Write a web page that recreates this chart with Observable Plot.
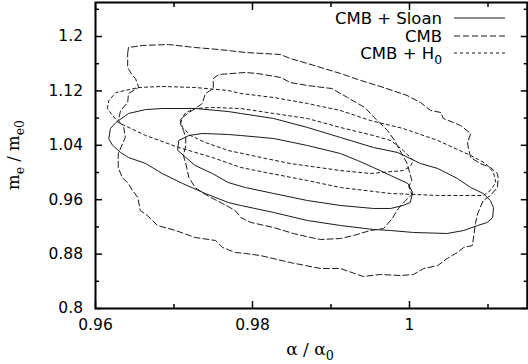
<!DOCTYPE html>
<html><head><meta charset="utf-8">
<script src="https://cdn.jsdelivr.net/npm/d3@7"></script>
<script src="https://cdn.jsdelivr.net/npm/@observablehq/plot@0.6"></script>
<style>body{margin:0;background:#fff} svg{display:block;background:#fff}</style>
</head><body><div id="chart"></div>
<script>
// ---- data (alpha/alpha0, me/me0) ----
const seriesNames = ["CMB + Sloan", "CMB", "CMB + H0"];
const xMajor = [0.96, 0.98, 1.0];
const xMinor = [0.97, 0.99, 1.01];
const yMajor = [0.8, 0.88, 0.96, 1.04, 1.12, 1.2];
const yMinor = [0.84, 0.92, 1.0, 1.08, 1.16, 1.24];

const sloanOuter = [[0.9617,1.0500],[0.9619,1.0647],[0.9626,1.0735],[0.9642,1.0868],[0.9664,1.0926],[0.9685,1.0941],[0.9727,1.0941],[0.9769,1.0897],[0.9785,1.0868],[0.9827,1.0794],[0.9870,1.0662],[0.9912,1.0515],[0.9954,1.0368],[0.9985,1.0294],[1.0014,1.0132],[1.0036,1.0059],[1.0061,0.9912],[1.0078,0.9779],[1.0094,0.9691],[1.0103,0.9588],[1.0107,0.9485],[1.0106,0.9338],[1.0099,0.9265],[1.0087,0.9221],[1.0069,0.9147],[1.0048,0.9103],[1.0005,0.9118],[0.9976,0.9147],[0.9954,0.9162],[0.9912,0.9221],[0.9870,0.9294],[0.9827,0.9412],[0.9785,0.9515],[0.9769,0.9559],[0.9740,0.9691],[0.9711,0.9838],[0.9685,0.9985],[0.9664,1.0132],[0.9642,1.0221],[0.9632,1.0294],[0.9622,1.0397]];
const sloanInner = [[0.9705,1.0368],[0.9706,1.0471],[0.9719,1.0544],[0.9736,1.0574],[0.9769,1.0559],[0.9785,1.0544],[0.9827,1.0500],[0.9870,1.0397],[0.9912,1.0279],[0.9934,1.0176],[0.9954,1.0074],[0.9976,0.9956],[0.9998,0.9838],[1.0004,0.9706],[1.0001,0.9559],[0.9992,0.9515],[0.9976,0.9471],[0.9954,0.9471],[0.9912,0.9515],[0.9870,0.9588],[0.9827,0.9691],[0.9791,0.9779],[0.9769,0.9853],[0.9749,0.9985],[0.9727,1.0103],[0.9715,1.0221],[0.9705,1.0324]];
const cmbOuter = [[0.9641,1.1750],[0.9642,1.1838],[0.9660,1.1868],[0.9693,1.1882],[0.9727,1.1838],[0.9757,1.1809],[0.9791,1.1765],[0.9836,1.1735],[0.9848,1.1676],[0.9870,1.1603],[0.9912,1.1456],[0.9938,1.1353],[0.9967,1.1250],[0.9997,1.1132],[1.0014,1.1029],[1.0027,1.0912],[1.0040,1.0882],[1.0043,1.0794],[1.0056,1.0735],[1.0065,1.0691],[1.0078,1.0574],[1.0074,1.0441],[1.0075,1.0353],[1.0078,1.0221],[1.0090,1.0132],[1.0103,1.0074],[1.0112,0.9985],[1.0113,0.9912],[1.0112,0.9779],[1.0103,0.9662],[1.0094,0.9588],[1.0090,0.9485],[1.0087,0.9397],[1.0084,0.9250],[1.0082,0.9074],[1.0080,0.8926],[1.0069,0.8897],[1.0061,0.8824],[1.0048,0.8735],[1.0036,0.8632],[1.0018,0.8588],[1.0005,0.8500],[0.9989,0.8485],[0.9963,0.8500],[0.9941,0.8471],[0.9912,0.8588],[0.9887,0.8588],[0.9848,0.8676],[0.9810,0.8779],[0.9791,0.8809],[0.9778,0.8824],[0.9762,0.8897],[0.9753,0.9000],[0.9727,0.9044],[0.9702,0.9147],[0.9679,0.9221],[0.9666,0.9368],[0.9657,0.9441],[0.9654,0.9632],[0.9647,0.9735],[0.9642,0.9838],[0.9634,0.9926],[0.9629,1.0074],[0.9629,1.0279],[0.9638,1.0515],[0.9636,1.0662],[0.9629,1.0765],[0.9632,1.0912],[0.9641,1.1029],[0.9642,1.1162],[0.9655,1.1250],[0.9651,1.1382],[0.9647,1.1426],[0.9641,1.1544]];
const cmbInner = [[0.9750,1.1382],[0.9757,1.1441],[0.9791,1.1471],[0.9806,1.1456],[0.9836,1.1397],[0.9848,1.1324],[0.9870,1.1279],[0.9901,1.1235],[0.9921,1.1103],[0.9943,1.0956],[0.9955,1.0809],[0.9972,1.0618],[0.9981,1.0471],[0.9990,1.0279],[0.9997,1.0132],[1.0003,0.9882],[0.9999,0.9794],[1.0003,0.9676],[0.9995,0.9588],[0.9986,0.9471],[0.9977,0.9309],[0.9967,0.9176],[0.9950,0.9147],[0.9929,0.9074],[0.9912,0.9029],[0.9887,0.9015],[0.9874,0.9044],[0.9852,0.9103],[0.9827,0.9191],[0.9798,0.9265],[0.9785,0.9338],[0.9778,0.9441],[0.9762,0.9544],[0.9747,0.9632],[0.9736,0.9706],[0.9727,0.9779],[0.9719,0.9926],[0.9715,1.0132],[0.9712,1.0250],[0.9715,1.0397],[0.9715,1.0515],[0.9712,1.0618],[0.9708,1.0721],[0.9711,1.0809],[0.9719,1.0882],[0.9727,1.0941],[0.9736,1.1015],[0.9740,1.1162],[0.9750,1.1235]];
const h0Outer = [[0.9615,1.0941],[0.9617,1.1059],[0.9626,1.1176],[0.9655,1.1250],[0.9685,1.1265],[0.9727,1.1250],[0.9769,1.1206],[0.9785,1.1162],[0.9827,1.1103],[0.9870,1.1015],[0.9912,1.0912],[0.9950,1.0765],[0.9992,1.0647],[1.0036,1.0471],[1.0078,1.0250],[1.0097,1.0132],[1.0107,1.0000],[1.0110,0.9853],[1.0103,0.9735],[1.0094,0.9662],[1.0036,0.9662],[0.9976,0.9691],[0.9912,0.9779],[0.9870,0.9882],[0.9817,1.0000],[0.9785,1.0074],[0.9749,1.0221],[0.9706,1.0368],[0.9664,1.0544],[0.9629,1.0735],[0.9622,1.0838]];
const h0Inner = [[0.9708,1.0765],[0.9715,1.0882],[0.9727,1.0941],[0.9749,1.0956],[0.9785,1.0941],[0.9827,1.0868],[0.9870,1.0794],[0.9912,1.0662],[0.9954,1.0544],[0.9976,1.0471],[0.9992,1.0324],[1.0005,1.0176],[1.0001,1.0088],[0.9992,1.0029],[0.9950,0.9985],[0.9912,1.0029],[0.9848,1.0132],[0.9817,1.0206],[0.9769,1.0324],[0.9740,1.0441],[0.9721,1.0544],[0.9711,1.0662]];

const contours = [
  {series: seriesNames[0], id: "sloan-95", pts: sloanOuter},
  {series: seriesNames[0], id: "sloan-68", pts: sloanInner},
  {series: seriesNames[1], id: "cmb-95", pts: cmbOuter},
  {series: seriesNames[1], id: "cmb-68", pts: cmbInner},
  {series: seriesNames[2], id: "h0-95", pts: h0Outer},
  {series: seriesNames[2], id: "h0-68", pts: h0Inner}
];
const rows = contours.flatMap(c => c.pts.map(([x, y]) => ({x, y, id: c.id, series: c.series})));

const styles = {
  "CMB + Sloan": {dash: null},
  "CMB": {dash: "6,3"},
  "CMB + H0": {dash: "3,3"}
};
const ink = "#1a1a1a";

const lineMarks = seriesNames.map(s => Plot.line(rows.filter(r => r.series === s), {
  x: "x", y: "y", z: "id", curve: "linear-closed",
  stroke: ink, strokeWidth: 1, strokeDasharray: styles[s].dash
}));

const fmt = d => String(d);
const blank = () => "";

const plot = Plot.plot({
  width: 528, height: 364,
  marginLeft: 95, marginRight: 1.25, marginTop: 2, marginBottom: 56,
  x: {domain: [0.96, 1.015]},
  y: {domain: [0.8, 1.25]},
  style: {fontFamily: "DejaVu Sans", fontSize: "15.5px", color: "#000", background: "#fff"},
  marks: [
    ...lineMarks,
    Plot.axisX({anchor: "bottom", ticks: xMajor, tickSize: -7, tickPadding: 17.5, tickFormat: fmt, label: null, stroke: "#000", strokeWidth: 1.5, fill: "#000"}),
    Plot.axisX({anchor: "bottom", ticks: xMinor, tickSize: -4, tickFormat: blank, label: null, stroke: "#000", strokeWidth: 1.5}),
    Plot.axisX({anchor: "top", ticks: xMajor, tickSize: -7, tickFormat: blank, label: null, stroke: "#000", strokeWidth: 1.5}),
    Plot.axisX({anchor: "top", ticks: xMinor, tickSize: -4, tickFormat: blank, label: null, stroke: "#000", strokeWidth: 1.5}),
    Plot.axisY({anchor: "left", ticks: yMajor, tickSize: -7, tickPadding: 19.5, tickFormat: fmt, label: null, stroke: "#000", strokeWidth: 1.5, fill: "#000"}),
    Plot.axisY({anchor: "left", ticks: yMinor, tickSize: -4, tickFormat: blank, label: null, stroke: "#000", strokeWidth: 1.5}),
    Plot.axisY({anchor: "right", ticks: yMajor, tickSize: -7, tickFormat: blank, label: null, stroke: "#000", strokeWidth: 1.5}),
    Plot.axisY({anchor: "right", ticks: yMinor, tickSize: -4, tickFormat: blank, label: null, stroke: "#000", strokeWidth: 1.5}),
    Plot.frame({stroke: "#000", strokeWidth: 2})
  ]
});
document.getElementById("chart").append(plot);

// ---- rich text (subscripts) ----
function rich(sel, parts, size) {
  const shift = size * 0.32;
  let down = false;
  parts.forEach(([t, sub]) => {
    const ts = sel.append("tspan").text(t);
    if (sub) {
      ts.attr("font-size", size * 0.75);
      if (!down) { ts.attr("dy", shift); down = true; }
    } else if (down) { ts.attr("dy", -shift); down = false; }
  });
}
const svg = d3.select(plot);

// axis labels
const xl = svg.append("text").attr("x", 310).attr("y", 355).attr("text-anchor", "middle")
  .attr("font-family", "DejaVu Serif").attr("font-size", 17).attr("fill", "#000");
rich(xl, [["α / α"], ["0", true]], 17);
const yl = svg.append("text").attr("transform", "translate(19,155) rotate(-90)").attr("text-anchor", "middle")
  .attr("font-family", "DejaVu Serif").attr("font-size", 16.5).attr("fill", "#000");
rich(yl, [["m"], ["e", true], [" / m"], ["e0", true]], 16.5);

// legend
const legendParts = [[["CMB + Sloan"]], [["CMB"]], [["CMB + H"], ["0", true]]];
const rowsY = [18, 36, 53];
seriesNames.forEach((s, i) => {
  const g = svg.append("g");
  const t = g.append("text").attr("x", 442).attr("y", rowsY[i]).attr("dy", "0.36em").attr("text-anchor", "end")
    .attr("font-family", "DejaVu Sans").attr("font-size", 16.5).attr("fill", "#000");
  rich(t, legendParts[i], 16.5);
  g.append("line").attr("x1", 454).attr("x2", 505).attr("y1", rowsY[i]).attr("y2", rowsY[i])
    .attr("stroke", ink).attr("stroke-width", 1).attr("stroke-dasharray", styles[s].dash);
});
</script>
</body></html>
